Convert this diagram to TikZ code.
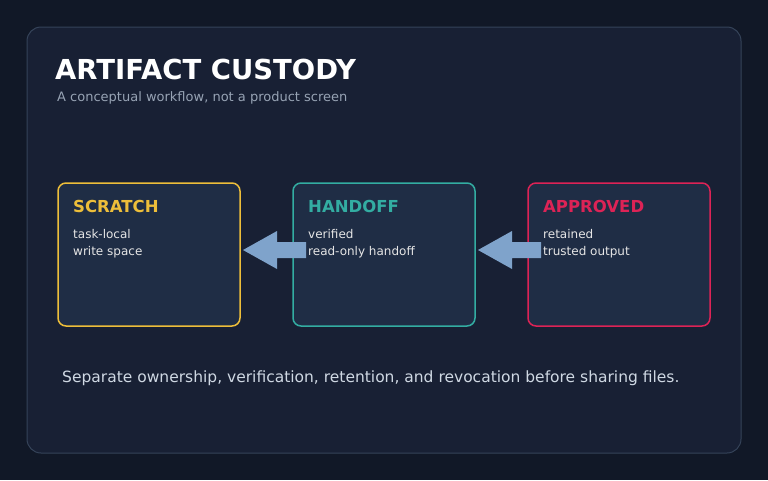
\documentclass[tikz,border=0pt]{standalone}
\usepackage{fontspec}
\setmainfont{DejaVu Sans}
\definecolor{bg}{HTML}{111827}
\definecolor{panel}{HTML}{182034}
\definecolor{panelline}{HTML}{354359}
\definecolor{boxfill}{HTML}{1F2D45}
\definecolor{cyel}{HTML}{EDBE3A}
\definecolor{cteal}{HTML}{33ADA2}
\definecolor{cred}{HTML}{DD2356}
\definecolor{arrowc}{HTML}{7FA3CB}
\definecolor{subg}{HTML}{97A3B4}
\definecolor{foot}{HTML}{CFD8E3}
\begin{document}
\begin{tikzpicture}[x=1pt,y=-1pt,
  box/.style={line width=1.5pt,rounded corners=8pt,fill=boxfill},
  head/.style={anchor=base west,font=\bfseries\fontsize{16.5}{18}\selectfont},
  body/.style={anchor=base west,text=white!90!black,font=\fontsize{12}{13}\selectfont},
  blk/.style={fill=arrowc}]
\fill[bg] (0,0) rectangle (768,480);
\useasboundingbox (0,0) rectangle (768,480);
\draw[panelline,fill=panel,rounded corners=14pt,line width=1pt] (27,27) rectangle (741,453);
\node[anchor=base west,text=white,font=\bfseries\fontsize{27.5}{30}\selectfont,inner sep=0] (title) at (55,79) {ARTIFACT CUSTODY};
\node[anchor=base west,text=subg,font=\fontsize{13}{15}\selectfont,inner sep=0] (sub) at (57,101) {A conceptual workflow, not a product screen};
\draw[box,draw=cyel] (58,183) rectangle (240,326);
\draw[box,draw=cteal] (293,183) rectangle (475,326);
\draw[box,draw=cred] (528,183) rectangle (710,326);
\node[head,text=cyel,inner sep=0] (s) at (73,212) {SCRATCH};
\node[head,text=cteal,inner sep=0] (h) at (308,212) {HANDOFF};
\node[head,text=cred,inner sep=0] (a) at (543,212) {APPROVED};
\node[body,inner sep=0] (s1) at (73,238) {task-local};
\node[body,inner sep=0] (s2) at (73,255) {write space};
\node[body,inner sep=0] (h1) at (308,238) {verified};
\node[body,inner sep=0] (h2) at (308,255) {read-only handoff};
\node[body,inner sep=0] (a1) at (543,238) {retained};
\node[body,inner sep=0] (a2) at (543,255) {trusted output};
\fill[blk] (306,242) -- (277,242) -- (277,231) -- (243,250) -- (277,269) -- (277,258) -- (306,258) -- cycle;
\fill[blk] (541,242) -- (512,242) -- (512,231) -- (478,250) -- (512,269) -- (512,258) -- (541,258) -- cycle;
\node[anchor=base west,text=foot,font=\fontsize{15.5}{17}\selectfont,inner sep=0] (f) at (62,382) {Separate ownership, verification, retention, and revocation before sharing files.};
\end{tikzpicture}
\end{document}
